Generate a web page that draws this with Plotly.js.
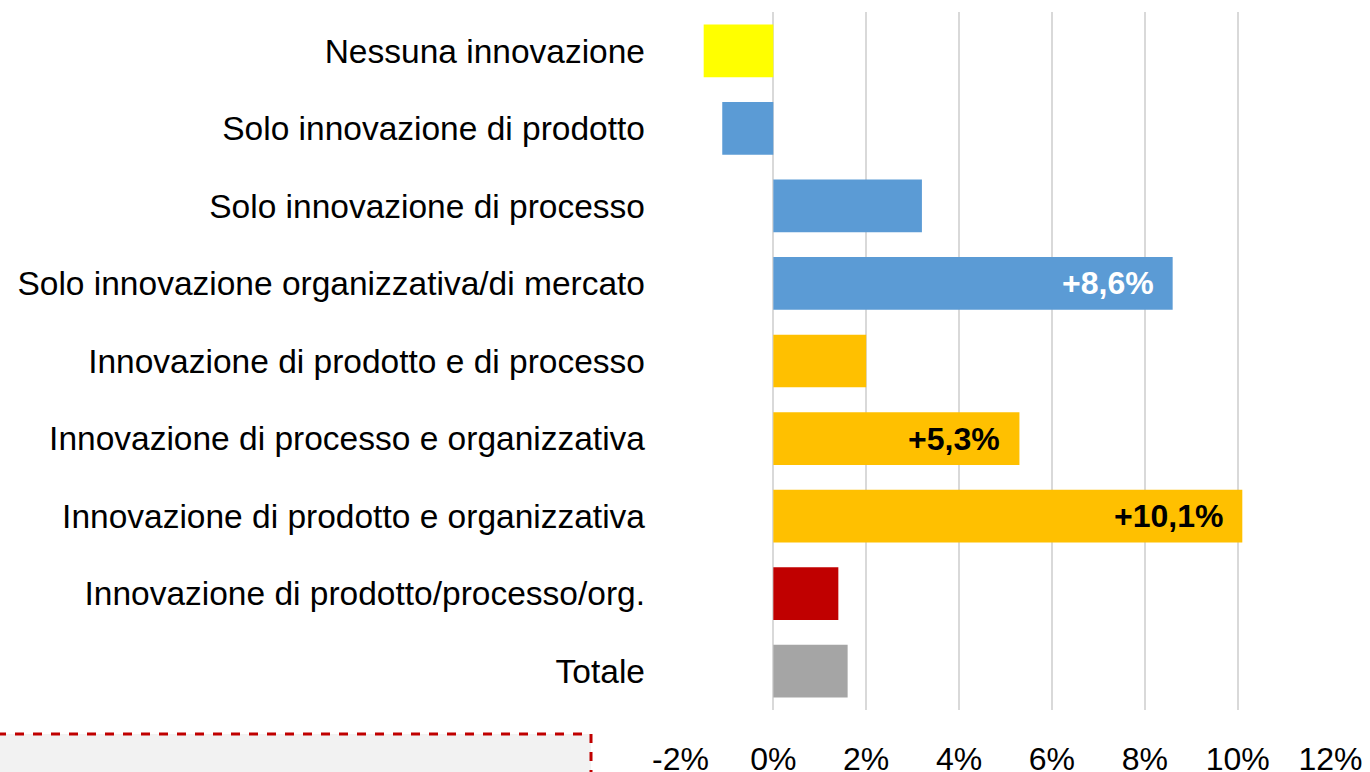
<!DOCTYPE html>
<html>
<head>
<meta charset="utf-8">
<script src="https://cdn.plot.ly/plotly-3.0.1.min.js"></script>
<style>
  html, body { margin: 0; padding: 0; background: #fff; }
  #graph { width: 1370px; height: 772px; }
</style>
</head>
<body>
<div id="graph"></div>
<script>
// categories, top to bottom
var categories = [
  'Nessuna innovazione',
  'Solo innovazione di prodotto',
  'Solo innovazione di processo',
  'Solo innovazione organizzativa/di mercato',
  'Innovazione di prodotto e di processo',
  'Innovazione di processo e organizzativa',
  'Innovazione di prodotto e organizzativa',
  'Innovazione di prodotto/processo/org.',
  'Totale'
];
// variation, %
var values = [-1.5, -1.1, 3.2, 8.6, 2.0, 5.3, 10.1, 1.4, 1.6];
// labels shown inside some bars
var barLabels = ['', '', '', '+8,6%', '', '+5,3%', '+10,1%', '', ''];

var tickVals = [-2, 0, 2, 4, 6, 8, 10, 12];
var tickText = ['-2%', '0%', '2%', '4%', '6%', '8%', '10%', '12%'];

var barColors = ['#FFFF00', '#5B9BD5', '#5B9BD5', '#5B9BD5',
                 '#FFC000', '#FFC000', '#FFC000', '#C00000', '#A5A5A5'];
var labelColors = ['#000', '#000', '#000', '#FFFFFF', '#000', '#000', '#000', '#000', '#000'];

var sans = 'Liberation Sans, Arial, sans-serif';

var trace = {
  type: 'bar',
  orientation: 'h',
  x: values,
  y: categories,
  marker: { color: barColors },
  hoverinfo: 'none'
};

var annotations = [];
for (var i = 0; i < categories.length; i++) {
  if (!barLabels[i]) continue;
  annotations.push({
    x: values[i],
    y: categories[i],
    xref: 'x',
    yref: 'y',
    text: '<b>' + barLabels[i] + '</b>',
    showarrow: false,
    xanchor: 'right',
    xshift: -17,
    font: { family: sans, size: 32, color: labelColors[i] }
  });
}

// plot area pixel box: 680..1331 x 12..710
var plotL = 680, plotR = 1331, plotT = 12, plotB = 710;
function px(x) { return (x - plotL) / (plotR - plotL); }
function py(y) { return (plotB - y) / (plotB - plotT); }

var layout = {
  width: 1370,
  height: 772,
  margin: { l: plotL, r: 1370 - plotR, t: plotT, b: 772 - plotB },
  paper_bgcolor: '#fff',
  plot_bgcolor: '#fff',
  showlegend: false,
  bargap: 0.32,
  xaxis: {
    range: [-2.01, 12.01],
    tickvals: tickVals,
    ticktext: tickText,
    showgrid: true,
    gridcolor: '#D9D9D9',
    gridwidth: 2,
    zeroline: false,
    showline: false,
    ticks: '',
    ticklabelstandoff: 27,
    tickfont: { family: sans, size: 32, color: '#000' },
    fixedrange: true
  },
  yaxis: {
    autorange: 'reversed',
    showgrid: false,
    zeroline: false,
    showline: false,
    ticks: '',
    ticklabelstandoff: 34,
    tickfont: { family: sans, size: 33.5, color: '#000' },
    fixedrange: true
  },
  annotations: annotations,
  shapes: [
    {
      type: 'rect',
      xref: 'paper',
      yref: 'paper',
      x0: px(-10),
      x1: px(591),
      y0: py(790),
      y1: py(734),
      fillcolor: '#F2F2F2',
      line: { color: '#C00000', width: 3, dash: 'dash' },
      layer: 'below'
    }
  ]
};

Plotly.newPlot('graph', [trace], layout, { displayModeBar: false, staticPlot: true });
</script>
</body>
</html>
